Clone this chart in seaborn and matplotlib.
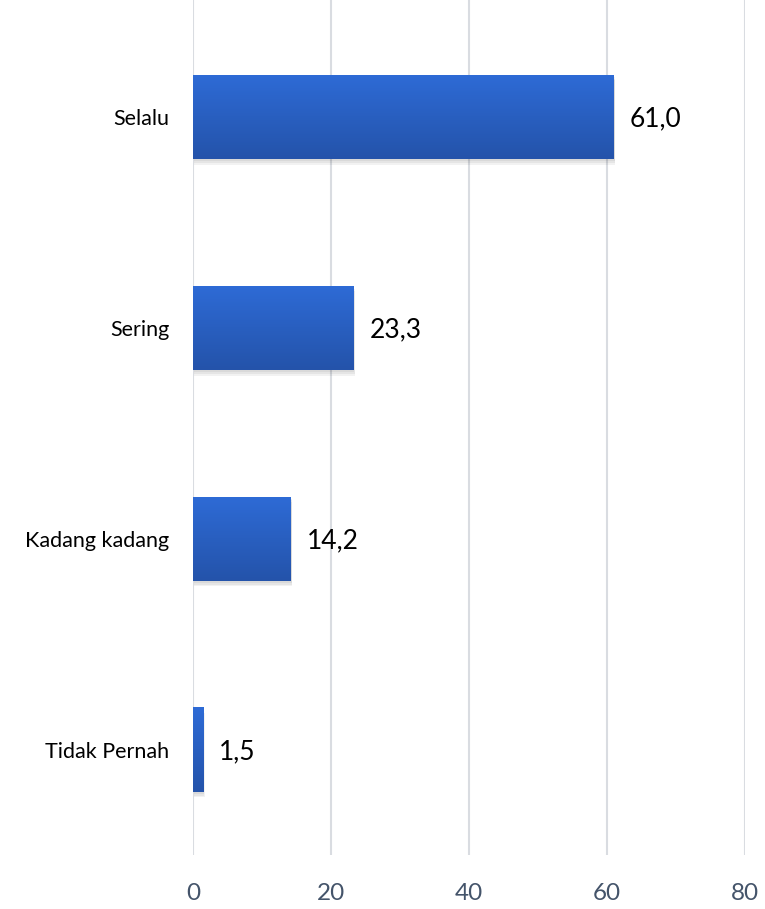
import matplotlib.pyplot as plt
import matplotlib.colors as mcolors
import numpy as np
import pandas as pd
import seaborn as sns

categories = ["Selalu", "Sering", "Kadang kadang", "Tidak Pernah"]
values = [61.0, 23.3, 14.2, 1.5]
value_labels = ["61,0", "23,3", "14,2", "1,5"]
x_ticks = [0, 20, 40, 60, 80]

sns.set_theme(style="white")
plt.rcParams["font.family"] = ["Lato", "DejaVu Sans"]

df = pd.DataFrame({"category": categories, "value": values})

fig = plt.figure(figsize=(7.65, 9.09), dpi=100)
ax = fig.add_axes([193 / 765, 54 / 909, 552 / 765, 855 / 909])

sns.barplot(data=df, x="value", y="category", orient="h", width=0.4,
            color="#2B62C8", ax=ax, zorder=3)

# gradient fill + soft shadow on each bar
grad = mcolors.LinearSegmentedColormap.from_list("bar", ["#2E6BD6", "#2453AA"])
gimg = np.linspace(0, 1, 256).reshape(-1, 1)
for p in list(ax.patches):
    x0, y0 = p.get_x(), p.get_y()
    w, h = p.get_width(), p.get_height()
    for k in range(3):
        shadow = plt.Rectangle((x0 + 0.1 + 0.05 * k, y0 + 0.01 + 0.008 * k), w, h,
                               color="#000000", alpha=0.05, zorder=2, linewidth=0)
        ax.add_patch(shadow)
    im = ax.imshow(gimg, cmap=grad, aspect="auto", extent=(x0, x0 + w, y0 + h, y0),
                   zorder=4, interpolation="bicubic")
    im.set_clip_path(p)
    p.set_edgecolor("none")

for i, (v, lab) in enumerate(zip(values, value_labels)):
    ax.text(v + 2.3, i + 0.01, lab, va="center", ha="left", fontsize=19, color="#000000")

ax.set_xlim(0, 80)
ax.set_ylim(3.5, -0.555)
ax.set_xticks(x_ticks)
ax.set_xticklabels([str(t) for t in x_ticks], fontsize=17.5, color="#44546A")
ax.tick_params(axis="x", length=0, pad=20)
ax.tick_params(axis="y", length=0, pad=17, labelsize=15.5, labelcolor="#000000")
ax.set_xlabel("")
ax.set_ylabel("")
ax.xaxis.grid(True, color="#D9DCE1", linewidth=1.5, zorder=0)
ax.set_axisbelow(True)
for s in ax.spines.values():
    s.set_visible(False)

fig.savefig("out.png", dpi=100)
